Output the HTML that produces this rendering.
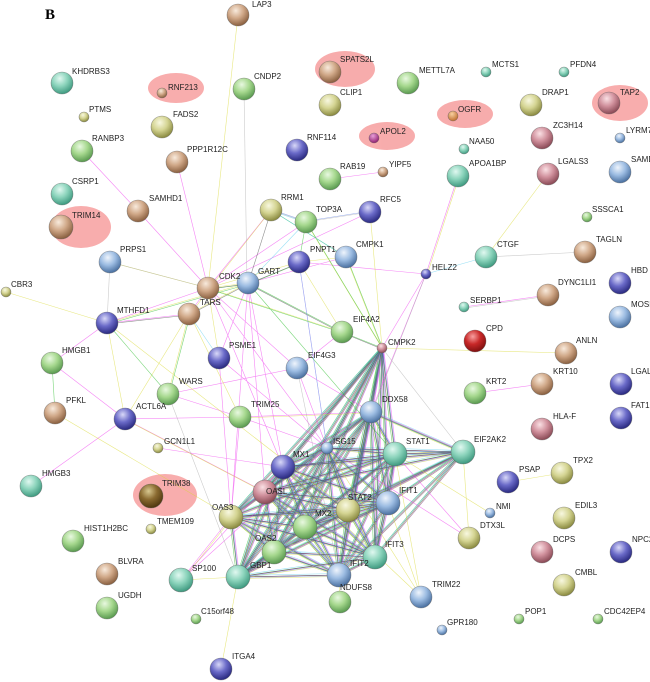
<!DOCTYPE html>
<html><head><meta charset="utf-8"><style>
html,body{margin:0;padding:0;background:#fff;}
svg{display:block;}
text{font-family:"Liberation Sans",sans-serif;font-size:8px;fill:#222;}
.e{fill:none;stroke-width:0.6;stroke-opacity:0.6;}
</style></head><body>
<svg width="650" height="682" viewBox="0 0 650 682" xmlns="http://www.w3.org/2000/svg" xmlns:xlink="http://www.w3.org/1999/xlink">
<defs>
<radialGradient id="g" cx="40%" cy="30%" r="70%"><stop offset="0" stop-color="#e8f8e0"/><stop offset="0.5" stop-color="#a6d88e"/><stop offset="1" stop-color="#5a9a50"/></radialGradient>
<radialGradient id="t" cx="40%" cy="30%" r="70%"><stop offset="0" stop-color="#e0f8f0"/><stop offset="0.5" stop-color="#8cd4bc"/><stop offset="1" stop-color="#3f9a80"/></radialGradient>
<radialGradient id="b" cx="40%" cy="30%" r="70%"><stop offset="0" stop-color="#eef4fc"/><stop offset="0.5" stop-color="#9cbce2"/><stop offset="1" stop-color="#4a70a0"/></radialGradient>
<radialGradient id="n" cx="40%" cy="30%" r="70%"><stop offset="0" stop-color="#d8d8f8"/><stop offset="0.5" stop-color="#6a6ac8"/><stop offset="1" stop-color="#2a2a80"/></radialGradient>
<radialGradient id="w" cx="40%" cy="30%" r="70%"><stop offset="0" stop-color="#f8eadc"/><stop offset="0.5" stop-color="#d0a888"/><stop offset="1" stop-color="#8a6040"/></radialGradient>
<radialGradient id="p" cx="40%" cy="30%" r="70%"><stop offset="0" stop-color="#fae0e4"/><stop offset="0.5" stop-color="#d0909c"/><stop offset="1" stop-color="#8a4a56"/></radialGradient>
<radialGradient id="y" cx="40%" cy="30%" r="70%"><stop offset="0" stop-color="#f8f8e0"/><stop offset="0.5" stop-color="#d4d492"/><stop offset="1" stop-color="#8a8a40"/></radialGradient>
<radialGradient id="r" cx="40%" cy="30%" r="70%"><stop offset="0" stop-color="#f8a0a0"/><stop offset="0.5" stop-color="#c82828"/><stop offset="1" stop-color="#801010"/></radialGradient>
<radialGradient id="d" cx="40%" cy="30%" r="70%"><stop offset="0" stop-color="#d8c890"/><stop offset="0.5" stop-color="#8a6a30"/><stop offset="1" stop-color="#503810"/></radialGradient>
<radialGradient id="o" cx="40%" cy="30%" r="70%"><stop offset="0" stop-color="#f8d0a0"/><stop offset="1" stop-color="#c07030"/></radialGradient>
<radialGradient id="m" cx="40%" cy="30%" r="70%"><stop offset="0" stop-color="#e8a0d8"/><stop offset="1" stop-color="#902070"/></radialGradient>
<path id="core" d="M371 412L327 448M371 412L395 454M371 412L283 467M371 412L265 492M371 412L231 517M371 412L305 527M371 412L348 510M371 412L388 503M371 412L274 552M371 412L238 577M371 412L339 575M371 412L375 557M371 412L463 452M371 412L382 348
M327 448L395 454M327 448L283 467M327 448L265 492M327 448L231 517M327 448L305 527M327 448L348 510M327 448L388 503M327 448L274 552M327 448L238 577M327 448L339 575M327 448L375 557M327 448L463 452M327 448L382 348
M395 454L283 467M395 454L265 492M395 454L231 517M395 454L305 527M395 454L348 510M395 454L388 503M395 454L274 552M395 454L238 577M395 454L339 575M395 454L375 557M395 454L463 452M395 454L382 348
M283 467L265 492M283 467L231 517M283 467L305 527M283 467L348 510M283 467L388 503M283 467L274 552M283 467L238 577M283 467L339 575M283 467L375 557M283 467L463 452M283 467L382 348
M265 492L231 517M265 492L305 527M265 492L348 510M265 492L388 503M265 492L274 552M265 492L238 577M265 492L339 575M265 492L375 557M265 492L463 452M265 492L382 348
M231 517L305 527M231 517L348 510M231 517L388 503M231 517L274 552M231 517L238 577M231 517L339 575M231 517L375 557M231 517L382 348
M305 527L348 510M305 527L388 503M305 527L274 552M305 527L238 577M305 527L339 575M305 527L375 557M305 527L463 452M305 527L382 348
M348 510L388 503M348 510L274 552M348 510L238 577M348 510L339 575M348 510L375 557M348 510L463 452M348 510L382 348
M388 503L274 552M388 503L238 577M388 503L339 575M388 503L375 557M388 503L463 452M388 503L382 348
M274 552L238 577M274 552L339 575M274 552L375 557M274 552L382 348M238 577L339 575M238 577L375 557M238 577L382 348
M339 575L375 557M339 575L463 452M339 575L382 348M375 557L463 452M375 557L382 348"/>
</defs>
<text x="45" y="19" style="font-family:'Liberation Serif',serif;font-size:15px;font-weight:bold;fill:#000">B</text>
<g fill="#f7a4a4" opacity="0.9">
<ellipse cx="176" cy="88" rx="28" ry="15"/>
<ellipse cx="345" cy="69" rx="30" ry="18"/>
<ellipse cx="620" cy="103" rx="28" ry="18"/>
<ellipse cx="465" cy="114" rx="28" ry="14"/>
<ellipse cx="387" cy="136" rx="28" ry="14"/>
<ellipse cx="81" cy="227" rx="30" ry="21"/>
<ellipse cx="165" cy="495" rx="32" ry="21"/>
</g>
<g class="e">
<use xlink:href="#core" href="#core" stroke="#22bb22" transform="translate(-1.5,0)"/>
<use xlink:href="#core" href="#core" stroke="#ee33ee" transform="translate(1.5,0)"/>
<use xlink:href="#core" href="#core" stroke="#d8d830" transform="translate(0,1.5)"/>
<use xlink:href="#core" href="#core" stroke="#55ccee" transform="translate(0,-1.5)"/>
<use xlink:href="#core" href="#core" stroke="#444" stroke-width="0.7"/>
<use xlink:href="#core" href="#core" stroke="#3355dd" transform="translate(0.8,0.8)" stroke-opacity="0.35"/>
</g>
<g class="e">
<path stroke="#ee33ee" d="M240 417L371 412M240 417L327 448M240 417L231 517M181 580L231 517M181 580L283 467M181 580L327 448M469 538L395 454M469 538L327 448M342 332L297 368M297 368L208 288M297 368L371 412M297 368L327 448M426 274L382 348M426 274L371 412M426 274L458 176M426 274L299 262M464 307L548 295M475 393L542 384M330 179L383 172M208 288L189 314M208 288L107 323M208 288L138 211M208 288L177 162M208 288L327 448M248 283L283 467M248 283L219 358M248 283L231 517M189 314L107 323M52 363L125 419M31 486L125 419M125 419L265 492M125 419L240 417M168 394L240 417M168 394L297 368M158 448L283 467M82 151L138 211M219 358L327 448M219 358L231 517M107 323L52 363M346 257L248 283M299 262L327 448M271 210L208 288M306 222L208 288M370 212L208 288M248 283L265 492M208 288L283 467"/>
<path stroke="#d8d830" d="M241 418L372 413M182 581L232 518M181 580L238 577M421 597L388 503M421 597L327 448M421 597L395 454M421 597L283 467M469 538L463 452M490 513L395 454M340 602L339 575M221 669L238 577M486 257L548 174M508 482L562 473M382 348L566 353M342 332L208 288M342 332L299 262M299 262L208 288M346 257L382 348M346 257L299 262M271 210L209 289M306 222L382 348M370 212L382 348M208 288L248 283M209 289L190 315M208 288L110 262M248 283L189 314M248 283L107 323M189 314L168 394M189 314L125 419M6 292L107 323M55 413L231 517M125 419L107 323M238 15L208 288M107 323L348 510M126 420L266 493M427 275L459 177M190 315L240 417M208 288L219 358"/>
<path stroke="#22bb22" d="M343 333L209 289M342 332L248 283M342 332L382 348M347 258L383 349M299 262L306 222M271 210L346 257M248 283L395 454M249 284L108 324M190 315L169 395M209 289L249 284M55 413L52 363M107 323L168 394M307 223L383 349M249 284L300 263"/>
<path stroke="#444" stroke-width="0.6" d="M208 289L248 284M248 284L299 263M248 284L189 315M271 211L248 284M189 315L107 324M342 333L248 284M343 333L382 349"/>
<path stroke="#aaaaaa" d="M244 89L247 283M238 577L168 394M486 257L585 252M465 308L549 296M370 212L306 222M382 348L463 452M110 262L107 323M110 262L208 288M426 274L372 412M306 222L271 210M371 412L463 452M297 368L339 575"/>
<path stroke="#55ccee" d="M426 274L486 257M271 210L346 257M189 314L219 358M248 283L306 222M299 262L327 448M272 211L307 223"/>
<path stroke="#5577dd" d="M307 221L371 211M270 209L305 221"/>
</g>
<g stroke="#555" stroke-width="0.6" stroke-opacity="0.6">
<circle cx="238" cy="15" r="11" fill="url(#w)"/>
<circle cx="62" cy="83" r="11" fill="url(#t)"/>
<circle cx="162" cy="93" r="5" fill="url(#w)"/>
<circle cx="330" cy="72" r="11" fill="url(#w)"/>
<circle cx="408" cy="83" r="11" fill="url(#g)"/>
<circle cx="486" cy="72" r="5" fill="url(#t)"/>
<circle cx="564" cy="72" r="5" fill="url(#t)"/>
<circle cx="609" cy="103" r="11" fill="url(#p)"/>
<circle cx="244" cy="89" r="11" fill="url(#g)"/>
<circle cx="84" cy="117" r="5" fill="url(#y)"/>
<circle cx="162" cy="127" r="11" fill="url(#y)"/>
<circle cx="330" cy="105" r="11" fill="url(#y)"/>
<circle cx="531" cy="105" r="11" fill="url(#y)"/>
<circle cx="453" cy="116" r="5" fill="url(#o)"/>
<circle cx="542" cy="138" r="11" fill="url(#p)"/>
<circle cx="620" cy="138" r="5" fill="url(#b)"/>
<circle cx="82" cy="151" r="11" fill="url(#g)"/>
<circle cx="177" cy="162" r="11" fill="url(#w)"/>
<circle cx="297" cy="150" r="11" fill="url(#n)"/>
<circle cx="374" cy="138" r="5" fill="url(#m)"/>
<circle cx="464" cy="149" r="5" fill="url(#t)"/>
<circle cx="330" cy="179" r="11" fill="url(#g)"/>
<circle cx="383" cy="172" r="5" fill="url(#w)"/>
<circle cx="458" cy="176" r="11" fill="url(#t)"/>
<circle cx="548" cy="174" r="11" fill="url(#p)"/>
<circle cx="620" cy="172" r="11" fill="url(#b)"/>
<circle cx="62" cy="194" r="11" fill="url(#t)"/>
<circle cx="138" cy="211" r="11" fill="url(#w)"/>
<circle cx="61" cy="227" r="12" fill="url(#w)"/>
<circle cx="271" cy="210" r="11" fill="url(#y)"/>
<circle cx="306" cy="222" r="11" fill="url(#g)"/>
<circle cx="370" cy="212" r="11" fill="url(#n)"/>
<circle cx="587" cy="217" r="5" fill="url(#g)"/>
<circle cx="110" cy="262" r="11" fill="url(#b)"/>
<circle cx="299" cy="262" r="11" fill="url(#n)"/>
<circle cx="346" cy="257" r="11" fill="url(#b)"/>
<circle cx="426" cy="274" r="5" fill="url(#n)"/>
<circle cx="486" cy="257" r="11" fill="url(#t)"/>
<circle cx="585" cy="252" r="11" fill="url(#w)"/>
<circle cx="6" cy="292" r="5" fill="url(#y)"/>
<circle cx="208" cy="288" r="11" fill="url(#w)"/>
<circle cx="248" cy="283" r="11" fill="url(#b)"/>
<circle cx="620" cy="283" r="11" fill="url(#n)"/>
<circle cx="548" cy="295" r="11" fill="url(#w)"/>
<circle cx="464" cy="307" r="5" fill="url(#t)"/>
<circle cx="189" cy="314" r="11" fill="url(#w)"/>
<circle cx="107" cy="323" r="11" fill="url(#n)"/>
<circle cx="620" cy="317" r="11" fill="url(#b)"/>
<circle cx="342" cy="332" r="11" fill="url(#g)"/>
<circle cx="475" cy="341" r="11" fill="url(#r)"/>
<circle cx="382" cy="348" r="5" fill="url(#p)"/>
<circle cx="566" cy="353" r="11" fill="url(#w)"/>
<circle cx="219" cy="358" r="11" fill="url(#n)"/>
<circle cx="52" cy="363" r="11" fill="url(#g)"/>
<circle cx="297" cy="368" r="11" fill="url(#b)"/>
<circle cx="542" cy="384" r="11" fill="url(#w)"/>
<circle cx="621" cy="384" r="11" fill="url(#n)"/>
<circle cx="168" cy="394" r="11" fill="url(#g)"/>
<circle cx="475" cy="393" r="11" fill="url(#g)"/>
<circle cx="371" cy="412" r="11" fill="url(#b)"/>
<circle cx="55" cy="413" r="11" fill="url(#w)"/>
<circle cx="240" cy="417" r="11" fill="url(#g)"/>
<circle cx="621" cy="418" r="11" fill="url(#n)"/>
<circle cx="125" cy="419" r="11" fill="url(#n)"/>
<circle cx="542" cy="429" r="11" fill="url(#p)"/>
<circle cx="158" cy="448" r="5" fill="url(#y)"/>
<circle cx="327" cy="448" r="6" fill="url(#b)"/>
<circle cx="463" cy="452" r="12" fill="url(#t)"/>
<circle cx="395" cy="454" r="12" fill="url(#t)"/>
<circle cx="283" cy="467" r="12" fill="url(#n)"/>
<circle cx="562" cy="473" r="11" fill="url(#y)"/>
<circle cx="508" cy="482" r="11" fill="url(#n)"/>
<circle cx="31" cy="486" r="11" fill="url(#t)"/>
<circle cx="265" cy="492" r="12" fill="url(#p)"/>
<circle cx="151" cy="496" r="12" fill="url(#d)"/>
<circle cx="388" cy="503" r="12" fill="url(#b)"/>
<circle cx="348" cy="510" r="12" fill="url(#y)"/>
<circle cx="490" cy="513" r="5" fill="url(#b)"/>
<circle cx="231" cy="517" r="12" fill="url(#y)"/>
<circle cx="564" cy="518" r="11" fill="url(#y)"/>
<circle cx="305" cy="527" r="12" fill="url(#g)"/>
<circle cx="151" cy="529" r="5" fill="url(#y)"/>
<circle cx="469" cy="538" r="11" fill="url(#y)"/>
<circle cx="73" cy="541" r="11" fill="url(#g)"/>
<circle cx="274" cy="552" r="12" fill="url(#g)"/>
<circle cx="542" cy="552" r="11" fill="url(#p)"/>
<circle cx="621" cy="552" r="11" fill="url(#n)"/>
<circle cx="375" cy="557" r="12" fill="url(#t)"/>
<circle cx="107" cy="574" r="11" fill="url(#w)"/>
<circle cx="339" cy="575" r="12" fill="url(#b)"/>
<circle cx="238" cy="577" r="12" fill="url(#t)"/>
<circle cx="181" cy="580" r="12" fill="url(#t)"/>
<circle cx="564" cy="585" r="11" fill="url(#y)"/>
<circle cx="421" cy="597" r="11" fill="url(#b)"/>
<circle cx="340" cy="602" r="11" fill="url(#g)"/>
<circle cx="107" cy="608" r="11" fill="url(#g)"/>
<circle cx="196" cy="619" r="5" fill="url(#g)"/>
<circle cx="519" cy="619" r="5" fill="url(#g)"/>
<circle cx="598" cy="619" r="5" fill="url(#g)"/>
<circle cx="442" cy="630" r="5" fill="url(#b)"/>
<circle cx="221" cy="669" r="11" fill="url(#n)"/>
</g>
<g>
<text x="252" y="7">LAP3</text>
<text x="72" y="74">KHDRBS3</text>
<text x="168" y="90">RNF213</text>
<text x="340" y="62">SPATS2L</text>
<text x="419" y="73">METTL7A</text>
<text x="492" y="67">MCTS1</text>
<text x="570" y="67">PFDN4</text>
<text x="620" y="95">TAP2</text>
<text x="254" y="79">CNDP2</text>
<text x="89" y="112">PTMS</text>
<text x="173" y="117">FADS2</text>
<text x="340" y="95">CLIP1</text>
<text x="542" y="95">DRAP1</text>
<text x="458" y="112">OGFR</text>
<text x="553" y="128">ZC3H14</text>
<text x="626" y="133">LYRM7</text>
<text x="92" y="141">RANBP3</text>
<text x="187" y="152">PPP1R12C</text>
<text x="307" y="140">RNF114</text>
<text x="380" y="134">APOL2</text>
<text x="469" y="144">NAA50</text>
<text x="340" y="169">RAB19</text>
<text x="389" y="167">YIPF5</text>
<text x="469" y="166">APOA1BP</text>
<text x="558" y="164">LGALS3</text>
<text x="631" y="162">SAMD</text>
<text x="72" y="184">CSRP1</text>
<text x="149" y="201">SAMHD1</text>
<text x="72" y="218">TRIM14</text>
<text x="281" y="200">RRM1</text>
<text x="316" y="212">TOP3A</text>
<text x="380" y="202">RFC5</text>
<text x="592" y="212">SSSCA1</text>
<text x="120" y="252">PRPS1</text>
<text x="310" y="252">PNPT1</text>
<text x="356" y="247">CMPK1</text>
<text x="432" y="270">HELZ2</text>
<text x="497" y="247">CTGF</text>
<text x="596" y="242">TAGLN</text>
<text x="11" y="287">CBR3</text>
<text x="219" y="279">CDK2</text>
<text x="258" y="274">GART</text>
<text x="631" y="273">HBD</text>
<text x="558" y="285">DYNC1LI1</text>
<text x="470" y="303">SERBP1</text>
<text x="200" y="305">TARS</text>
<text x="117" y="313">MTHFD1</text>
<text x="631" y="307">MOSP</text>
<text x="353" y="322">EIF4A2</text>
<text x="486" y="331">CPD</text>
<text x="388" y="345">CMPK2</text>
<text x="576" y="343">ANLN</text>
<text x="229" y="348">PSME1</text>
<text x="62" y="353">HMGB1</text>
<text x="308" y="358">EIF4G3</text>
<text x="553" y="374">KRT10</text>
<text x="631" y="374">LGAL</text>
<text x="179" y="384">WARS</text>
<text x="486" y="384">KRT2</text>
<text x="382" y="402">DDX58</text>
<text x="66" y="403">PFKL</text>
<text x="251" y="407">TRIM25</text>
<text x="631" y="408">FAT1</text>
<text x="136" y="409">ACTL6A</text>
<text x="553" y="419">HLA-F</text>
<text x="164" y="444">GCN1L1</text>
<text x="333" y="444">ISG15</text>
<text x="474" y="442">EIF2AK2</text>
<text x="406" y="444">STAT1</text>
<text x="293" y="457">MX1</text>
<text x="573" y="463">TPX2</text>
<text x="519" y="472">PSAP</text>
<text x="42" y="476">HMGB3</text>
<text x="266" y="494">OASL</text>
<text x="162" y="486">TRIM38</text>
<text x="399" y="493">IFIT1</text>
<text x="348" y="500">STAT2</text>
<text x="496" y="509">NMI</text>
<text x="212" y="510">OAS3</text>
<text x="575" y="508">EDIL3</text>
<text x="315" y="516">MX2</text>
<text x="157" y="524">TMEM109</text>
<text x="480" y="528">DTX3L</text>
<text x="84" y="531">HIST1H2BC</text>
<text x="255" y="541">OAS2</text>
<text x="553" y="542">DCPS</text>
<text x="632" y="542">NPC2</text>
<text x="385" y="547">IFIT3</text>
<text x="118" y="564">BLVRA</text>
<text x="350" y="566">IFIT2</text>
<text x="250" y="568">GBP1</text>
<text x="192" y="571">SP100</text>
<text x="575" y="575">CMBL</text>
<text x="432" y="587">TRIM22</text>
<text x="340" y="590">NDUFS8</text>
<text x="118" y="598">UGDH</text>
<text x="201" y="614">C15orf48</text>
<text x="525" y="614">POP1</text>
<text x="604" y="614">CDC42EP4</text>
<text x="447" y="625">GPR180</text>
<text x="232" y="659">ITGA4</text>
</g>
</svg>
</body></html>
